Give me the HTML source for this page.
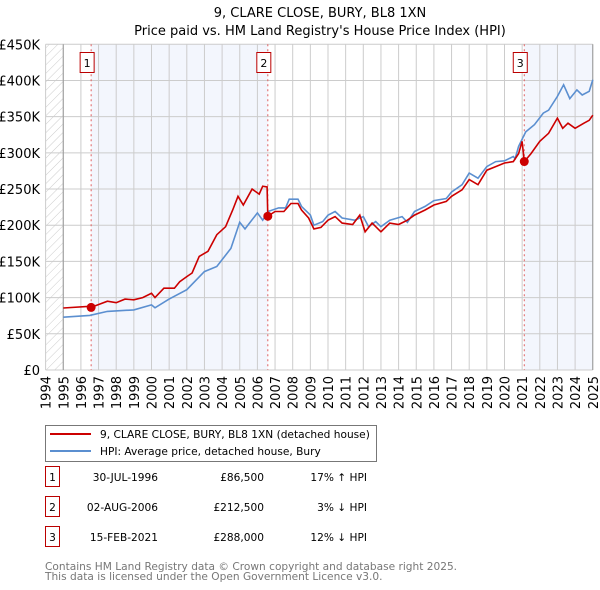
<!DOCTYPE html>
<html><head><meta charset="utf-8"><style>
body{margin:0;background:#fff;width:600px;height:590px;overflow:hidden;font-family:"Liberation Sans","DejaVu Sans",sans-serif}
svg{display:block}
text{font-family:"DejaVu Sans","Liberation Sans",sans-serif}
</style></head><body>
<svg id="c" width="600" height="590">
<defs><pattern id="hatch" width="6" height="6" patternUnits="userSpaceOnUse" patternTransform="rotate(45)"><line x1="0" y1="0" x2="0" y2="6" stroke="#ccc" stroke-width="1"/></pattern></defs>
<text x="320" y="17" text-anchor="middle" font-size="13">9, CLARE CLOSE, BURY, BL8 1XN</text>
<text x="320" y="35" text-anchor="middle" font-size="13">Price paid vs. HM Land Registry's House Price Index (HPI)</text>
<g id="plot"></g>
<g>
<rect x="45.5" y="425.5" width="331" height="36" fill="#fff" stroke="#777"/>
<line x1="50" y1="434" x2="91" y2="434" stroke="#cc0000" stroke-width="2"/>
<text x="100" y="438" font-size="10.6">9, CLARE CLOSE, BURY, BL8 1XN (detached house)</text>
<line x1="50" y1="451" x2="91" y2="451" stroke="#5b8fd0" stroke-width="2"/>
<text x="100" y="455" font-size="10.6">HPI: Average price, detached house, Bury</text>
</g>
<g id="table" font-size="10.6"></g>
<text x="45" y="570" font-size="10.6" fill="#777">Contains HM Land Registry data © Crown copyright and database right 2025.</text>
<text x="45" y="580" font-size="10.6" fill="#777">This data is licensed under the Open Government Licence v3.0.</text>
</svg>
<script>
const yTicks=[0,50000,100000,150000,200000,250000,300000,350000,400000,450000];
const yTickLabels=["£0","£50K","£100K","£150K","£200K","£250K","£300K","£350K","£400K","£450K"];
const xYears=[1994,1995,1996,1997,1998,1999,2000,2001,2002,2003,2004,2005,2006,2007,2008,2009,2010,2011,2012,2013,2014,2015,2016,2017,2018,2019,2020,2021,2022,2023,2024,2025];
const hpiT=[1995,1996.5,1997.5,1999,2000,2000.2,2001,2002,2003,2003.7,2004.5,2005,2005.3,2006,2006.3,2006.6,2007.2,2007.6,2007.8,2008.3,2008.5,2009,2009.2,2009.7,2010,2010.4,2010.8,2011.5,2012,2012.3,2012.7,2013,2013.5,2014.2,2014.5,2014.9,2015.5,2016,2016.7,2017,2017.6,2018,2018.5,2019,2019.5,2020,2020.5,2020.6,2020.8,2021.2,2021.7,2022.2,2022.5,2023,2023.35,2023.7,2024.1,2024.4,2024.8,2025];
const hpiV=[73,75.5,81,83,90,86,98,111,136,143,168,204,195,217,207,219,224,224,236,236,226,214,200,205,214,219,210,207,212,198,205,198,207,212,204,219,226,234,237,246,256,272,265,281,288,289,295,292,309,329,339,355,359,378,394,375,387,380,385,401];
const ppT=[1995,1996.5,1996.58,1997.5,1998,1998.5,1999,1999.5,2000,2000.2,2000.7,2001.3,2001.6,2002,2002.3,2002.7,2003.2,2003.7,2004.2,2004.6,2004.9,2005.2,2005.7,2006.1,2006.3,2006.55,2006.59,2007,2007.5,2007.9,2008.3,2008.5,2008.9,2009.2,2009.6,2010,2010.4,2010.8,2011.4,2011.8,2012.1,2012.5,2013,2013.5,2014,2014.5,2014.9,2015.5,2016,2016.7,2017,2017.6,2018,2018.5,2019,2019.5,2020,2020.5,2020.8,2021.0,2021.12,2021.5,2022,2022.5,2023,2023.3,2023.6,2024,2024.5,2024.8,2025];
const ppV=[85.6,88,86.5,95,93,98,97,100,106,100,113,113,122,129,134,157,164,187,198,221,240,228,250,243,254,253,212.5,219,219,230,230,221,210,195,197,207,212,203,201,214,191,203,191,203,201,207,214,221,228,233,240,249,263,256,276,281,286,288,299,316,288,299,316,327,348,334,341,334,341,345,352];
const saleT=[1996.58,2006.59,2021.12];
const saleV=[86500,212500,288000];
const saleLabels=["1","2","3"];
const saleDates=["30-JUL-1996","02-AUG-2006","15-FEB-2021"];
const salePrices=["£86,500","£212,500","£288,000"];
const saleDiffs=["17% ↑ HPI","3% ↓ HPI","12% ↓ HPI"];

const X=yr=>45.6+(yr-1994)*17.65;
const Y=v=>370-v/450000*325.7;
const NS="http://www.w3.org/2000/svg";
const plot=document.getElementById('plot');
function mk(tag,attrs,parent,txt){const e=document.createElementNS(NS,tag);for(const k in attrs)e.setAttribute(k,attrs[k]);if(txt!==undefined)e.textContent=txt;(parent||plot).appendChild(e);return e;}
let e;
e=mk('rect',{x:X(1994),y:Y(450000),width:X(1995)-X(1994),height:Y(0)-Y(450000),fill:'url(#hatch)'});


e=mk('rect',{x:X(saleT[0]),y:Y(450000),width:X(saleT[1])-X(saleT[0]),height:Y(0)-Y(450000),fill:'#f3f6fd'});


e=mk('rect',{x:X(saleT[2]),y:Y(450000),width:X(2025)-X(saleT[2]),height:Y(0)-Y(450000),fill:'#f3f6fd'});


yTicks.forEach((v,i)=>{
 e=mk('line',{x1:X(1994),x2:X(2025),y1:Y(v),y2:Y(v),stroke:'#ccc'});
 
 
 e=mk('text',{x:40,y:Y(v)+5,'text-anchor':'end','font-size':13},plot,yTickLabels[i]);
 
 
});
xYears.forEach(yr=>{
 e=mk('line',{x1:X(yr),x2:X(yr),y1:Y(450000),y2:Y(0),stroke:'#ccc'});
 
 
 e=mk('text',{x:0,y:0,'text-anchor':'end','font-size':13,transform:`translate(${X(yr)+5},376) rotate(-90)`},plot,String(yr));
 
 
});
e=mk('line',{x1:X(1995),x2:X(1995),y1:Y(450000),y2:Y(0),stroke:'#999'});


e=mk('line',{x1:X(2025),x2:X(2025),y1:Y(450000),y2:Y(0),stroke:'#999'});


saleT.forEach((t,i)=>{
 e=mk('line',{x1:X(t),x2:X(t),y1:Y(450000),y2:Y(0),stroke:'#e06060','stroke-dasharray':'2,3'});
 
 
 e=mk('rect',{x:X(t)-11,y:52.5,width:14,height:20,fill:'#fff',stroke:'#b00'});
 
 
 e=mk('text',{x:X(t)-4,y:67,'text-anchor':'middle','font-size':11},plot,saleLabels[i]);
 
 
});
const pts=(T,V)=>T.map((t,i)=>X(t).toFixed(1)+','+Y(V[i]*1000).toFixed(1)).join(' ');
e=mk('polyline',{points:pts(hpiT,hpiV),fill:'none',stroke:'#5b8fd0','stroke-width':1.6});


e=mk('polyline',{points:pts(ppT,ppV),fill:'none',stroke:'#cc0000','stroke-width':1.6});


saleT.forEach((t,i)=>{
 e=mk('circle',{cx:X(t),cy:Y(saleV[i]),r:4.5,fill:'#cc0000'});
 
 
});
const tb=document.getElementById('table');
saleT.forEach((t,i)=>{
 const y=483+i*30;
 e=mk('rect',{x:45.5,y:y-16.5,width:14,height:20,fill:'#fff',stroke:'#b00'},tb);
 
 
 e=mk('text',{x:52.5,y:y-2,'text-anchor':'middle'},tb,saleLabels[i]);
 
 
 e=mk('text',{x:158,y:y-2,'text-anchor':'end'},tb,saleDates[i]);
 
 
 e=mk('text',{x:264,y:y-2,'text-anchor':'end'},tb,salePrices[i]);
 
 
 e=mk('text',{x:367,y:y-2,'text-anchor':'end'},tb,saleDiffs[i]);
 
 
});
</script>
</body></html>
